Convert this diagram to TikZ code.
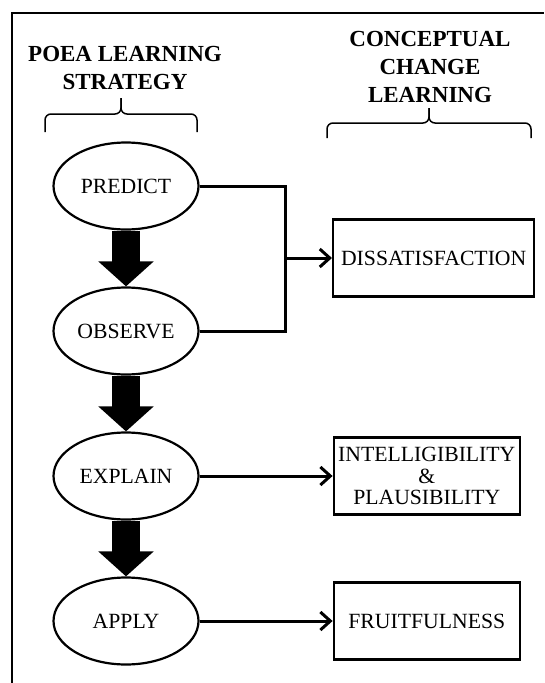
\documentclass[tikz,border=0pt]{standalone}
\usepackage{fontspec}
\setmainfont{Liberation Serif}
\usetikzlibrary{shapes.geometric, arrows.meta, positioning}
\tikzstyle{stage} = [ellipse, draw=black, line width=2.2pt, minimum width=145pt, minimum height=87pt, inner sep=0pt, font=\fontsize{21.7}{23}\selectfont]
\tikzstyle{change} = [rectangle, draw=black, line width=2.4pt, minimum height=77pt, inner sep=0pt, align=center, font=\fontsize{21.7}{21.5}\selectfont]
\tikzstyle{heading} = [align=center, font=\bfseries\fontsize{23}{28}\selectfont]
\tikzstyle{bigarrow} = [line width=28pt, -{Triangle[length=25pt, width=54pt]}]
\tikzstyle{arrow} = [line width=3pt, -{Straight Barb[length=10pt, width=18pt]}]
\tikzstyle{bracket} = [line width=1.5pt, rounded corners=6pt]

\begin{document}
\begin{tikzpicture}[x=1pt, y=-1pt, node distance=145pt]
        \useasboundingbox (0,0) rectangle (544,683);
        % frame
        \draw[line width=2.2pt] (12,683) -- (12,13) -- (544,13);

        \node (poea) [heading] at (125,68) {POEA LEARNING\\STRATEGY};
        \node (ccl) [heading] at (430,67) {CONCEPTUAL\\CHANGE\\LEARNING};
        \draw [bracket] (45,132) -- (45,114) -- (121,114) -- (121,98);
        \draw [bracket] (121,98) -- (121,114) -- (197,114) -- (197,132);
        \draw [bracket] (327,138) -- (327,123) -- (429,123) -- (429,108);
        \draw [bracket] (429,108) -- (429,123) -- (531,123) -- (531,138);

        \node (predict) [stage] at (126,186) {PREDICT};
        \node (observe) [stage, below of=predict] {OBSERVE};
        \node (explain) [stage, below of=observe] {EXPLAIN};
        \node (apply) [stage, below of=explain] {APPLY};

        \coordinate (split) at (285,258);
        \node (dissatisfaction) [change, minimum width=201pt, right=47pt of split] {DISSATISFACTION};
        \node (intelligibility) [change, minimum width=186pt, right=133pt of explain] {INTELLIGIBILITY\\\&\\PLAUSIBILITY};
        \node (fruitfulness) [change, minimum width=186pt, right=133pt of apply] {FRUITFULNESS};

        \draw [bigarrow] (predict) -- (observe);
        \draw [bigarrow] (observe) -- (explain);
        \draw [bigarrow] (explain) -- (apply);

        \draw [line width=3pt] (predict.east) -| (split) |- (observe.east);
        \draw [arrow] (split) -- (dissatisfaction);
        \draw [arrow] (explain) -- (intelligibility);
        \draw [arrow] (apply) -- (fruitfulness);

\end{tikzpicture}
\end{document}
